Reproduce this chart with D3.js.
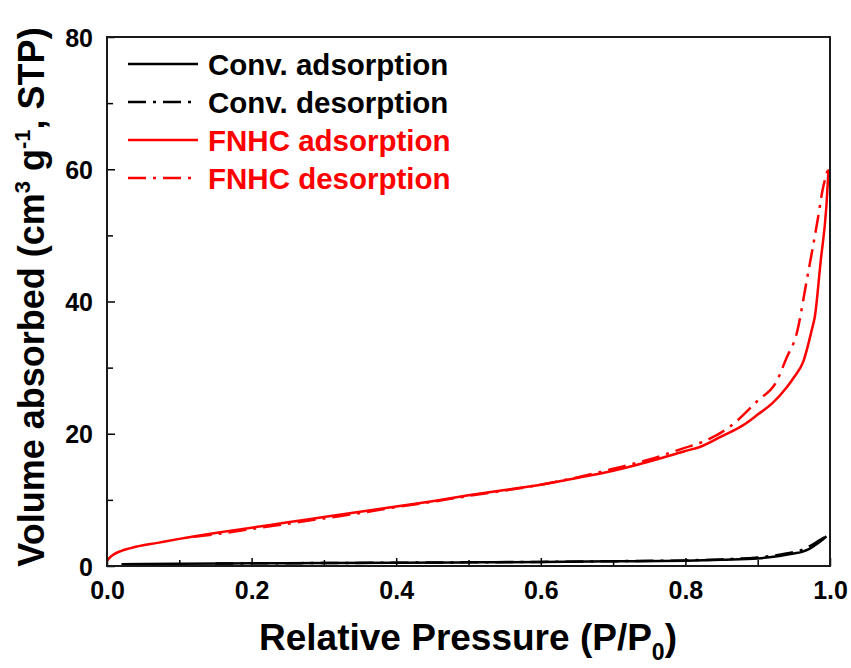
<!DOCTYPE html>
<html>
<head>
<meta charset="utf-8">
<script src="https://cdn.jsdelivr.net/npm/d3@7"></script>
<style>
  html, body { margin: 0; padding: 0; background: #fff; }
  svg { display: block; font-family: "Liberation Sans", Arial, sans-serif; font-weight: bold; }
</style>
</head>
<body>
<svg id="chart" width="851" height="668"></svg>
<script>
// N2 sorption isotherms: relative pressure (P/P0) vs volume adsorbed (cm3/g STP)
const convAdsP = [0.02, 0.05, 0.1, 0.2, 0.3, 0.4, 0.5, 0.6, 0.7, 0.8, 0.85, 0.9, 0.93, 0.95, 0.96, 0.97, 0.98, 0.99, 0.995];
const convAdsV = [0.25, 0.3, 0.35, 0.4, 0.45, 0.5, 0.55, 0.6, 0.7, 0.8, 0.95, 1.15, 1.5, 1.9, 2.1, 2.5, 3.2, 4.0, 4.5];
const convDesP = [0.995, 0.99, 0.98, 0.97, 0.96, 0.95, 0.93, 0.9, 0.85, 0.8, 0.7, 0.6, 0.5, 0.4, 0.3, 0.2, 0.15];
const convDesV = [4.5, 4.2, 3.5, 2.9, 2.4, 2.1, 1.7, 1.3, 1.0, 0.85, 0.72, 0.62, 0.56, 0.5, 0.45, 0.4, 0.38];

const fnhcAdsP = [0.0, 0.005, 0.01, 0.02, 0.04, 0.07, 0.1, 0.15, 0.2, 0.25, 0.3, 0.35, 0.4, 0.45, 0.5, 0.55, 0.6, 0.65, 0.7, 0.75, 0.8, 0.82, 0.85, 0.88, 0.9, 0.92, 0.94, 0.95, 0.963, 0.975, 0.979, 0.987, 0.995, 0.998];
const fnhcAdsV = [0.8, 1.4, 1.8, 2.3, 2.9, 3.5, 4.1, 5.0, 5.8, 6.6, 7.4, 8.2, 9.0, 9.8, 10.7, 11.5, 12.3, 13.3, 14.4, 15.8, 17.4, 18.0, 19.6, 21.3, 22.9, 24.6, 27.0, 28.5, 30.9, 35.8, 37.7, 46.0, 54.4, 60.0];
const fnhcDesP = [0.998, 0.99, 0.983, 0.968, 0.954, 0.94, 0.926, 0.9, 0.862, 0.82, 0.8, 0.75, 0.7, 0.65, 0.6, 0.55, 0.5, 0.45, 0.4, 0.35, 0.3, 0.25, 0.2, 0.15, 0.12];
const fnhcDesV = [60.3, 57.0, 52.4, 43.3, 35.2, 31.5, 27.9, 25.0, 21.1, 18.6, 17.9, 16.1, 14.7, 13.4, 12.3, 11.4, 10.6, 9.7, 8.9, 8.0, 7.2, 6.4, 5.6, 4.8, 4.4];

const legendLabels = ["Conv. adsorption", "Conv. desorption", "FNHC adsorption", "FNHC desorption"];
const xTicks = [0.0, 0.2, 0.4, 0.6, 0.8, 1.0];
const yTicks = [0, 20, 40, 60, 80];

const series = [
  { name: legendLabels[0], p: convAdsP, v: convAdsV, color: "#000000", dash: null },
  { name: legendLabels[1], p: convDesP, v: convDesV, color: "#000000", dash: "18,7,3,7" },
  { name: legendLabels[2], p: fnhcAdsP, v: fnhcAdsV, color: "#ff0000", dash: null },
  { name: legendLabels[3], p: fnhcDesP, v: fnhcDesV, color: "#ff0000", dash: "18,7,3,7" }
];

const svg = d3.select("#chart");
const m = { left: 107, top: 37, right: 830, bottom: 566 };

const x = d3.scaleLinear().domain([0, 1]).range([m.left, m.right]);
const y = d3.scaleLinear().domain([0, 80]).range([m.bottom, m.top]);

// curves
const line = d3.line().x(d => x(d[0])).y(d => y(d[1])).curve(d3.curveMonotoneX);
const clipId = "plotclip";
svg.append("clipPath").attr("id", clipId).append("rect")
  .attr("x", m.left).attr("y", m.top).attr("width", m.right - m.left).attr("height", m.bottom - m.top);

const plot = svg.append("g").attr("clip-path", `url(#${clipId})`);
series.forEach(s => {
  const pts = s.p.map((p, i) => [p, s.v[i]]).sort((a, b) => a[0] - b[0]);
  plot.append("path")
    .datum(pts)
    .attr("d", line)
    .attr("fill", "none")
    .attr("stroke", s.color)
    .attr("stroke-width", 2.5)
    .attr("stroke-linejoin", "round")
    .attr("stroke-dasharray", s.dash);
});

// axes with inward ticks; minor ticks unlabeled
const isMajorX = d => xTicks.some(t => Math.abs(t - d) < 1e-6);
const xAxis = d3.axisBottom(x).tickValues(d3.range(0, 1.0001, 0.1)).tickSizeOuter(0)
  .tickFormat(d => (isMajorX(d) ? d3.format(".1f")(d) : ""));
const gx = svg.append("g").attr("transform", `translate(0,${m.bottom})`).call(xAxis);
gx.selectAll(".tick line").attr("stroke", "#000").attr("stroke-width", 1.5)
  .attr("y2", d => (isMajorX(d) ? -8 : -6));
gx.selectAll(".tick text").attr("font-size", 25).attr("font-family", "Liberation Sans, Arial, sans-serif")
  .attr("font-weight", "bold").attr("fill", "#000").attr("y", 15).attr("dy", "0.71em");
gx.select(".domain").remove();

const isMajorY = d => yTicks.includes(d);
const yAxis = d3.axisLeft(y).tickValues(d3.range(0, 80.001, 10)).tickSizeOuter(0)
  .tickFormat(d => (isMajorY(d) ? d3.format("d")(d) : ""));
const gy = svg.append("g").attr("transform", `translate(${m.left},0)`).call(yAxis);
gy.selectAll(".tick line").attr("stroke", "#000").attr("stroke-width", 1.5)
  .attr("x2", d => (isMajorY(d) ? 8 : 6));
gy.selectAll(".tick text").attr("font-size", 25).attr("font-family", "Liberation Sans, Arial, sans-serif")
  .attr("font-weight", "bold").attr("fill", "#000").attr("x", -14).attr("dy", "0.36em");
gy.select(".domain").remove();

// frame
svg.append("rect")
  .attr("x", m.left).attr("y", m.top).attr("width", m.right - m.left).attr("height", m.bottom - m.top)
  .attr("fill", "none").attr("stroke", "#1a1a1a").attr("stroke-width", 2);

// legend
const lg = svg.append("g");
series.forEach((s, i) => {
  const yy = 64 + i * 38;
  lg.append("line").attr("x1", 128).attr("x2", 198).attr("y1", yy).attr("y2", yy)
    .attr("stroke", s.color).attr("stroke-width", 2.5).attr("stroke-dasharray", s.dash);
  lg.append("text").attr("x", 208).attr("y", yy + 11)
    .attr("font-size", 29.5).attr("fill", s.color).text(s.name);
});

// axis titles
const xt = svg.append("text").attr("x", 468).attr("y", 650).attr("text-anchor", "middle")
  .attr("font-size", 37).attr("fill", "#000");
xt.append("tspan").text("Relative Pressure (P/P");
xt.append("tspan").attr("font-size", 23).attr("dy", 10).text("0");
xt.append("tspan").attr("dy", -10).text(")");

const yt = svg.append("text").attr("transform", "translate(44,297) rotate(-90)")
  .attr("text-anchor", "middle").attr("font-size", 36).attr("fill", "#000");
yt.append("tspan").text("Volume absorbed (cm");
yt.append("tspan").attr("font-size", 22).attr("dy", -14).text("3");
yt.append("tspan").attr("dy", 14).text(" g");
yt.append("tspan").attr("font-size", 22).attr("dy", -14).text("-1");
yt.append("tspan").attr("dy", 14).text(", STP)");
</script>
</body>
</html>
